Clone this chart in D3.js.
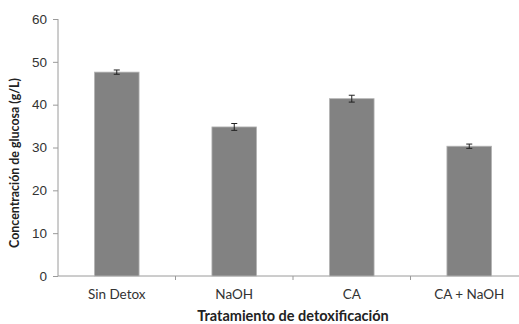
<!DOCTYPE html>
<html>
<head>
<meta charset="utf-8">
<script src="https://cdn.jsdelivr.net/npm/d3@7"></script>
<style>
  body { margin: 0; background: #fff; }
  svg { display: block; font-family: Lato, "Open Sans", sans-serif; }
  .axis path, .axis line { stroke: #9a9a9a; }
  .axis text { fill: #333; font-size: 13.5px; }
</style>
</head>
<body>
<svg id="chart" width="519" height="324"></svg>
<script>
// data
var categories = ["Sin Detox", "NaOH", "CA", "CA + NaOH"];
var glucose = [47.6, 34.8, 41.4, 30.3];
var errors = [0.5, 0.8, 0.8, 0.5];
var yTicks = [0, 10, 20, 30, 40, 50, 60];

var svg = d3.select("#chart");

var x = d3.scaleBand().domain(categories).range([58, 528]).paddingInner(0).paddingOuter(0);
var y = d3.scaleLinear().domain([0, 60]).range([276, 19]);

var barW = x.bandwidth() * 0.38;

// y axis
svg.append("g")
  .attr("class", "axis")
  .attr("transform", "translate(58,0)")
  .call(d3.axisLeft(y).tickValues(yTicks).tickSize(5).tickPadding(6))
  .call(function(g){ g.select(".domain").attr("d", "M0," + y(60) + "V" + y(0)); });

// x axis (line + tick marks at band edges)
var xa = svg.append("g").attr("class", "axis");
xa.append("line")
  .attr("x1", 58).attr("x2", 519)
  .attr("y1", y(0)).attr("y2", y(0));
xa.selectAll(".tk")
  .data(categories.slice(1))
  .enter().append("line")
  .attr("x1", function(d){ return x(d); })
  .attr("x2", function(d){ return x(d); })
  .attr("y1", y(0)).attr("y2", y(0) + 4);
xa.selectAll(".lbl")
  .data(categories)
  .enter().append("text")
  .attr("x", function(d){ return x(d) + x.bandwidth() / 2; })
  .attr("y", 299)
  .attr("text-anchor", "middle")
  .text(function(d){ return d; });

// bars
svg.selectAll(".bar")
  .data(categories)
  .enter().append("rect")
  .attr("x", function(d){ return x(d) + (x.bandwidth() - barW) / 2; })
  .attr("y", function(d, i){ return y(glucose[i]); })
  .attr("width", barW)
  .attr("height", function(d, i){ return y(0) - y(glucose[i]); })
  .attr("fill", "#828282")
  .attr("stroke", "#b5b5b5")
  .attr("stroke-width", 0.8);

// error bars
var eb = svg.selectAll(".err")
  .data(categories)
  .enter().append("g")
  .attr("stroke", "#222")
  .attr("stroke-width", 1);
eb.append("line")
  .attr("x1", function(d){ return x(d) + x.bandwidth() / 2; })
  .attr("x2", function(d){ return x(d) + x.bandwidth() / 2; })
  .attr("y1", function(d, i){ return y(glucose[i] - errors[i]); })
  .attr("y2", function(d, i){ return y(glucose[i] + errors[i]); });
[-1, 1].forEach(function(s){
  eb.append("line")
    .attr("x1", function(d){ return x(d) + x.bandwidth() / 2 - 3; })
    .attr("x2", function(d){ return x(d) + x.bandwidth() / 2 + 3; })
    .attr("y1", function(d, i){ return y(glucose[i] + s * errors[i]); })
    .attr("y2", function(d, i){ return y(glucose[i] + s * errors[i]); });
});

// titles
svg.append("text")
  .attr("x", 293).attr("y", 321)
  .attr("text-anchor", "middle")
  .attr("font-size", 14.5).attr("font-weight", "bold").attr("fill", "#222")
  .text("Tratamiento de detoxificación");

svg.append("text")
  .attr("transform", "translate(19,163) rotate(-90)")
  .attr("text-anchor", "middle")
  .attr("font-size", 12.4).attr("font-weight", "bold").attr("fill", "#222")
  .text("Concentración de glucosa (g/L)");
</script>
</body>
</html>
